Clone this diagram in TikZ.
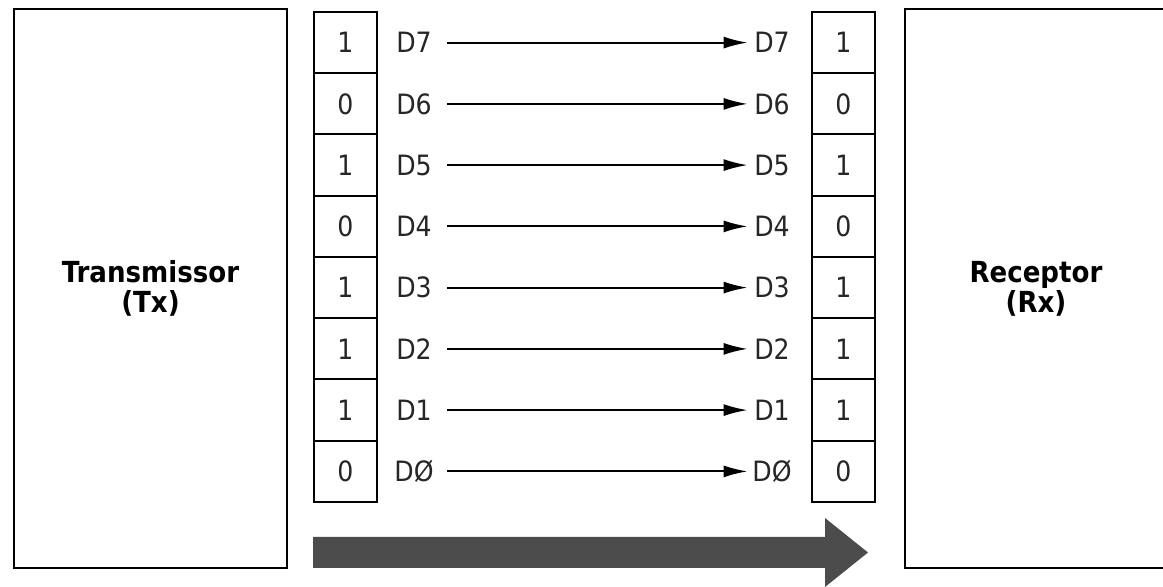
\documentclass[tikz,border=0pt]{standalone}
\usepackage{fontspec}
\setmainfont{DejaVu Sans Condensed}
\usetikzlibrary{arrows.meta}

\tikzset{
  bitcell/.style={draw,line width=1pt,minimum width=31.5pt,minimum height=30.6pt,
    inner sep=0pt,font=\fontsize{14}{16}\selectfont,text=black!85},
  bitname/.style={inner sep=0pt,minimum width=22pt,font=\fontsize{14}{16}\selectfont,text=black!85},
  unitbox/.style={draw,line width=1.3pt,minimum width=136.5pt,minimum height=279.5pt,
    align=center,font=\bfseries\fontsize{14.5}{15}\selectfont},
  wire/.style={line width=1pt,shorten <=5.5pt,shorten >=1pt,-{Latex[length=12pt,width=6pt]}},
  flow/.style={fill=black!70}
}

\begin{document}
\begin{tikzpicture}[x=0.5pt,y=-0.5pt]
\clip (0,0) rectangle (1163,587);

\node[unitbox] (tx) at (150.5,288.5) {Transmissor\\(Tx)};
\node[unitbox,minimum width=131pt] (rx) at (1036,288.5) {Receptor\\(Rx)};

% registro do transmissor
\node[bitcell] (t7) at (345.5,42.6) {1};
\node[bitcell] (t6) at (345.5,103.9) {0};
\node[bitcell] (t5) at (345.5,165.1) {1};
\node[bitcell] (t4) at (345.5,226.4) {0};
\node[bitcell] (t3) at (345.5,287.6) {1};
\node[bitcell] (t2) at (345.5,348.9) {1};
\node[bitcell] (t1) at (345.5,410.1) {1};
\node[bitcell] (t0) at (345.5,471.4) {0};

\node[bitname] (a7) at (414,42.6) {D7};
\node[bitname] (a6) at (414,103.9) {D6};
\node[bitname] (a5) at (414,165.1) {D5};
\node[bitname] (a4) at (414,226.4) {D4};
\node[bitname] (a3) at (414,287.6) {D3};
\node[bitname] (a2) at (414,348.9) {D2};
\node[bitname] (a1) at (414,410.1) {D1};
\node[bitname] (a0) at (414,471.4) {DØ};

% registro do receptor
\node[bitname] (b7) at (772,42.6) {D7};
\node[bitname] (b6) at (772,103.9) {D6};
\node[bitname] (b5) at (772,165.1) {D5};
\node[bitname] (b4) at (772,226.4) {D4};
\node[bitname] (b3) at (772,287.6) {D3};
\node[bitname] (b2) at (772,348.9) {D2};
\node[bitname] (b1) at (772,410.1) {D1};
\node[bitname] (b0) at (772,471.4) {DØ};

\node[bitcell] (r7) at (843.5,42.6) {1};
\node[bitcell] (r6) at (843.5,103.9) {0};
\node[bitcell] (r5) at (843.5,165.1) {1};
\node[bitcell] (r4) at (843.5,226.4) {0};
\node[bitcell] (r3) at (843.5,287.6) {1};
\node[bitcell] (r2) at (843.5,348.9) {1};
\node[bitcell] (r1) at (843.5,410.1) {1};
\node[bitcell] (r0) at (843.5,471.4) {0};

\draw[wire] (a7) -- (b7);
\draw[wire] (a6) -- (b6);
\draw[wire] (a5) -- (b5);
\draw[wire] (a4) -- (b4);
\draw[wire] (a3) -- (b3);
\draw[wire] (a2) -- (b2);
\draw[wire] (a1) -- (b1);
\draw[wire] (a0) -- (b0);

% sentido da transmissao
\fill[flow] (313,537) -- (825,537) -- (825,518) -- (868,552.5)
  -- (825,587) -- (825,568) -- (313,568) -- cycle;

\end{tikzpicture}
\end{document}
